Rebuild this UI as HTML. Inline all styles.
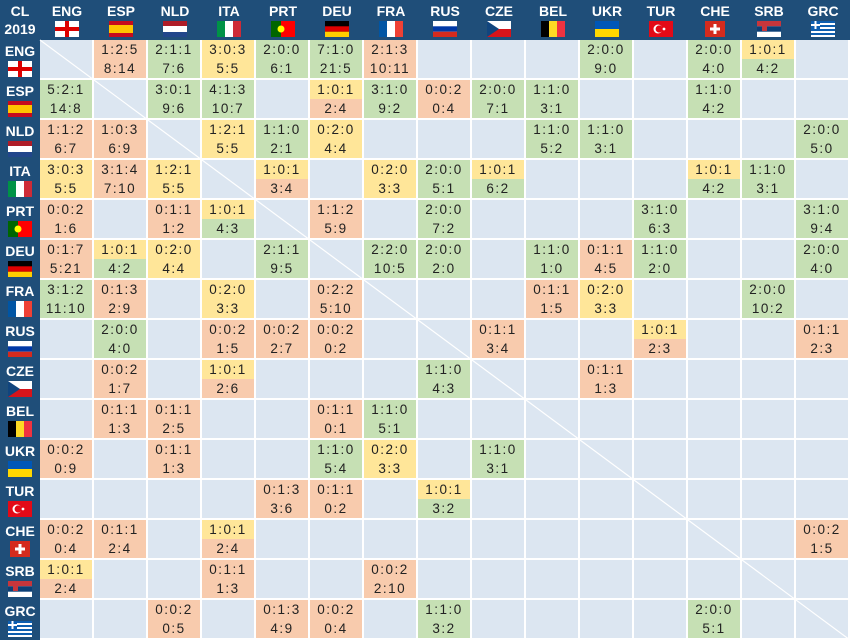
<!DOCTYPE html>
<html><head><meta charset="utf-8">
<style>
body{margin:0;width:850px;height:640px;overflow:hidden;background:#1f4e79;font-family:"Liberation Sans",sans-serif;}
#wrap{position:relative;width:850px;height:640px;}
.hd{position:absolute;background:#1f4e79;color:#fff;font-weight:bold;font-size:14px;text-align:center;}
.hd .t{position:absolute;left:0;right:0;top:3px;line-height:16px;}
.hd svg{position:absolute;left:50%;margin-left:-12px;top:21px;}
.cell{position:absolute;background:#dce6f1;box-sizing:border-box;border-right:2px solid #fff;border-bottom:2px solid #fff;}
.half{position:absolute;left:0;right:0;height:19px;line-height:19px;text-align:center;font-size:13.5px;color:#222;letter-spacing:1.5px;}
</style></head><body>
<div id="wrap"></div>
<script>
const teams=["ENG","ESP","NLD","ITA","PRT","DEU","FRA","RUS","CZE","BEL","UKR","TUR","CHE","SRB","GRC"];
const wdl={
ENG:{ESP:"1:2:5",NLD:"2:1:1",ITA:"3:0:3",PRT:"2:0:0",DEU:"7:1:0",FRA:"2:1:3",UKR:"2:0:0",CHE:"2:0:0",SRB:"1:0:1"},
ESP:{ENG:"5:2:1",NLD:"3:0:1",ITA:"4:1:3",DEU:"1:0:1",FRA:"3:1:0",RUS:"0:0:2",CZE:"2:0:0",BEL:"1:1:0",CHE:"1:1:0"},
NLD:{ENG:"1:1:2",ESP:"1:0:3",ITA:"1:2:1",PRT:"1:1:0",DEU:"0:2:0",BEL:"1:1:0",UKR:"1:1:0",GRC:"2:0:0"},
ITA:{ENG:"3:0:3",ESP:"3:1:4",NLD:"1:2:1",PRT:"1:0:1",FRA:"0:2:0",RUS:"2:0:0",CZE:"1:0:1",CHE:"1:0:1",SRB:"1:1:0"},
PRT:{ENG:"0:0:2",NLD:"0:1:1",ITA:"1:0:1",DEU:"1:1:2",RUS:"2:0:0",TUR:"3:1:0",GRC:"3:1:0"},
DEU:{ENG:"0:1:7",ESP:"1:0:1",NLD:"0:2:0",PRT:"2:1:1",FRA:"2:2:0",RUS:"2:0:0",BEL:"1:1:0",UKR:"0:1:1",TUR:"1:1:0",GRC:"2:0:0"},
FRA:{ENG:"3:1:2",ESP:"0:1:3",ITA:"0:2:0",DEU:"0:2:2",BEL:"0:1:1",UKR:"0:2:0",SRB:"2:0:0"},
RUS:{ESP:"2:0:0",ITA:"0:0:2",PRT:"0:0:2",DEU:"0:0:2",CZE:"0:1:1",TUR:"1:0:1",GRC:"0:1:1"},
CZE:{ESP:"0:0:2",ITA:"1:0:1",RUS:"1:1:0",UKR:"0:1:1"},
BEL:{ESP:"0:1:1",NLD:"0:1:1",DEU:"0:1:1",FRA:"1:1:0"},
UKR:{ENG:"0:0:2",NLD:"0:1:1",DEU:"1:1:0",FRA:"0:2:0",CZE:"1:1:0"},
TUR:{PRT:"0:1:3",DEU:"0:1:1",RUS:"1:0:1"},
CHE:{ENG:"0:0:2",ESP:"0:1:1",ITA:"1:0:1",GRC:"0:0:2"},
SRB:{ENG:"1:0:1",ITA:"0:1:1",FRA:"0:0:2"},
GRC:{NLD:"0:0:2",PRT:"0:1:3",DEU:"0:0:2",RUS:"1:1:0",CHE:"2:0:0"}
};
const goals={
ENG:{ESP:"8:14",NLD:"7:6",ITA:"5:5",PRT:"6:1",DEU:"21:5",FRA:"10:11",UKR:"9:0",CHE:"4:0",SRB:"4:2"},
ESP:{ENG:"14:8",NLD:"9:6",ITA:"10:7",DEU:"2:4",FRA:"9:2",RUS:"0:4",CZE:"7:1",BEL:"3:1",CHE:"4:2"},
NLD:{ENG:"6:7",ESP:"6:9",ITA:"5:5",PRT:"2:1",DEU:"4:4",BEL:"5:2",UKR:"3:1",GRC:"5:0"},
ITA:{ENG:"5:5",ESP:"7:10",NLD:"5:5",PRT:"3:4",FRA:"3:3",RUS:"5:1",CZE:"6:2",CHE:"4:2",SRB:"3:1"},
PRT:{ENG:"1:6",NLD:"1:2",ITA:"4:3",DEU:"5:9",RUS:"7:2",TUR:"6:3",GRC:"9:4"},
DEU:{ENG:"5:21",ESP:"4:2",NLD:"4:4",PRT:"9:5",FRA:"10:5",RUS:"2:0",BEL:"1:0",UKR:"4:5",TUR:"2:0",GRC:"4:0"},
FRA:{ENG:"11:10",ESP:"2:9",ITA:"3:3",DEU:"5:10",BEL:"1:5",UKR:"3:3",SRB:"10:2"},
RUS:{ESP:"4:0",ITA:"1:5",PRT:"2:7",DEU:"0:2",CZE:"3:4",TUR:"2:3",GRC:"2:3"},
CZE:{ESP:"1:7",ITA:"2:6",RUS:"4:3",UKR:"1:3"},
BEL:{ESP:"1:3",NLD:"2:5",DEU:"0:1",FRA:"5:1"},
UKR:{ENG:"0:9",NLD:"1:3",DEU:"5:4",FRA:"3:3",CZE:"3:1"},
TUR:{PRT:"3:6",DEU:"0:2",RUS:"3:2"},
CHE:{ENG:"0:4",ESP:"2:4",ITA:"2:4",GRC:"1:5"},
SRB:{ENG:"2:4",ITA:"1:3",FRA:"2:10"},
GRC:{NLD:"0:5",PRT:"4:9",DEU:"0:4",RUS:"3:2",CHE:"5:1"}
};
const W0=40,H0=40,CW=54,RH=40;
function flag(c){
 const s={
 ENG:'<rect width="24" height="16" fill="#fff"/><rect x="10" width="4" height="16" fill="#d00"/><rect y="6" width="24" height="4" fill="#d00"/>',
 ESP:'<rect width="24" height="16" fill="#c60b1e"/><rect y="4" width="24" height="8" fill="#ffc400"/>',
 NLD:'<rect width="24" height="16" fill="#fff"/><rect width="24" height="5" fill="#ae1c28"/><rect y="11" width="24" height="5" fill="#21468b"/>',
 ITA:'<rect width="24" height="16" fill="#fff"/><rect width="8" height="16" fill="#009246"/><rect x="16" width="8" height="16" fill="#ce2b37"/>',
 PRT:'<rect width="24" height="16" fill="#f00"/><rect width="10" height="16" fill="#060"/><circle cx="10" cy="8" r="3.5" fill="#ff0"/>',
 DEU:'<rect width="24" height="16" fill="#000"/><rect y="5.3" width="24" height="5.4" fill="#d00"/><rect y="10.7" width="24" height="5.3" fill="#ffce00"/>',
 FRA:'<rect width="24" height="16" fill="#fff"/><rect width="8" height="16" fill="#0055a4"/><rect x="16" width="8" height="16" fill="#ef4135"/>',
 RUS:'<rect width="24" height="16" fill="#fff"/><rect y="5.3" width="24" height="5.4" fill="#0039a6"/><rect y="10.7" width="24" height="5.3" fill="#d52b1e"/>',
 CZE:'<rect width="24" height="16" fill="#fff"/><rect y="8" width="24" height="8" fill="#d7141a"/><path d="M0 0L12 8L0 16Z" fill="#11457e"/>',
 BEL:'<rect width="24" height="16" fill="#000"/><rect x="8" width="8" height="16" fill="#fdda24"/><rect x="16" width="8" height="16" fill="#ef3340"/>',
 UKR:'<rect width="24" height="16" fill="#0057b7"/><rect y="8" width="24" height="8" fill="#ffd700"/>',
 TUR:'<rect width="24" height="16" fill="#e30a17"/><circle cx="9" cy="8" r="4.5" fill="#fff"/><circle cx="10.2" cy="8" r="3.6" fill="#e30a17"/><circle cx="15" cy="8" r="1.4" fill="#fff"/>',
 CHE:'<rect x="2" width="20" height="16" fill="#d52b1e"/><rect x="10.5" y="3" width="3" height="10" fill="#fff"/><rect x="7" y="6.5" width="10" height="3" fill="#fff"/>',
 SRB:'<rect width="24" height="16" fill="#fff"/><rect width="24" height="5.3" fill="#c6363c"/><rect y="5.3" width="24" height="5.4" fill="#0c4076"/><rect x="5" y="3" width="5" height="7" fill="#c6363c"/>',
 GRC:'<rect width="24" height="16" fill="#fff"/><rect y="0" width="24" height="2" fill="#0d5eaf"/><rect y="4" width="24" height="2" fill="#0d5eaf"/><rect y="8" width="24" height="2" fill="#0d5eaf"/><rect y="12" width="24" height="2" fill="#0d5eaf"/><rect width="9" height="8" fill="#0d5eaf"/><rect x="3.5" width="2" height="8" fill="#fff"/><rect y="3" width="9" height="2" fill="#fff"/>'
 }[c];
 return '<svg width="24" height="16" viewBox="0 0 24 16">'+s+'</svg>';
}
function col(a,b){return a>b?"#c6e0b4":a<b?"#f8cbad":"#ffe699";}
const wrap=document.getElementById('wrap');
const corner=document.createElement('div');
corner.className='hd';corner.style.cssText='left:0;top:0;width:40px;height:40px;';
corner.innerHTML='<div class="t">CL</div><div class="t" style="top:21px">2019</div>';


wrap.appendChild(corner);
teams.forEach((t,i)=>{
 const h=document.createElement('div');h.className='hd';
 h.style.cssText=`left:${W0+i*CW}px;top:0;width:${CW}px;height:40px;`;
 h.innerHTML='<div class="t">'+t+'</div>'+flag(t);
 
 
 wrap.appendChild(h);
 const r=document.createElement('div');r.className='hd';
 r.style.cssText=`left:0;top:${H0+i*RH}px;width:40px;height:${RH}px;`;
 r.innerHTML='<div class="t">'+t+'</div>'+flag(t);
 
 
 wrap.appendChild(r);
});
teams.forEach((rt,i)=>{teams.forEach((ct,j)=>{
 const c=document.createElement('div');c.className='cell';
 c.style.cssText=`left:${W0+j*CW}px;top:${H0+i*RH}px;width:${CW}px;height:${RH}px;`;
 
 
 const r=wdl[rt][ct];
 if(r){
  const p=r.split(':').map(Number),g=goals[rt][ct].split(':').map(Number);
  c.innerHTML=`<div class="half" style="top:0;background:${col(p[0],p[2])}">${r}</div><div class="half" style="top:19px;background:${col(g[0],g[1])}">${goals[rt][ct]}</div>`;
 }
 wrap.appendChild(c);
});});
const ns='http://www.w3.org/2000/svg';
const sv=document.createElementNS(ns,'svg');
sv.setAttribute('width','850');sv.setAttribute('height','640');
sv.style.cssText='position:absolute;left:0;top:0;pointer-events:none;';
const ln=document.createElementNS(ns,'line');
ln.setAttribute('x1',W0);ln.setAttribute('y1',H0);ln.setAttribute('x2',850);ln.setAttribute('y2',640);
ln.setAttribute('stroke','#fff');ln.setAttribute('stroke-width','1.2');


sv.appendChild(ln);wrap.appendChild(sv);
</script>
</body></html>
